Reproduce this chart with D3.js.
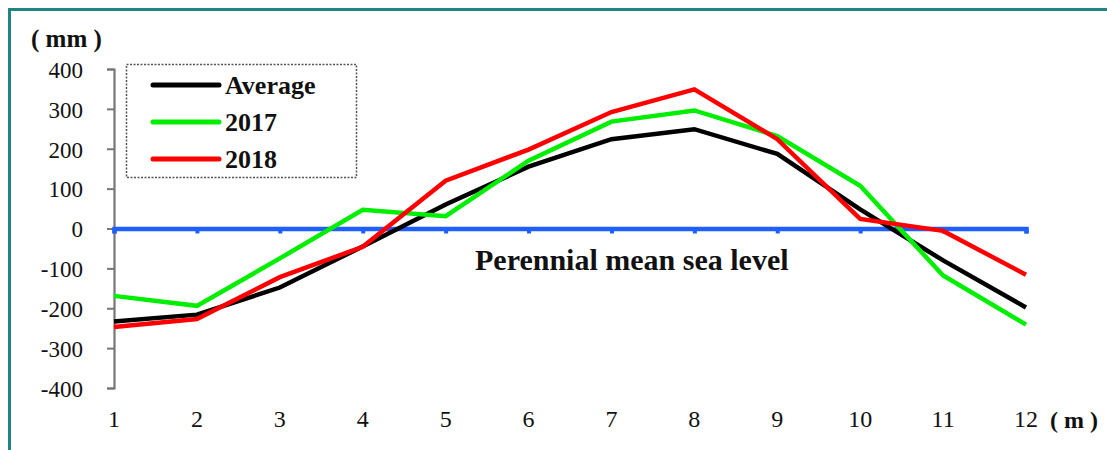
<!DOCTYPE html>
<html>
<head>
<meta charset="utf-8">
<script src="https://cdn.jsdelivr.net/npm/d3@7"></script>
<style>
  html, body { margin: 0; padding: 0; background: #fff; }
  svg { display: block; }
  text { font-family: "Liberation Serif", "Times New Roman", serif; fill: #111; }
</style>
</head>
<body>
<svg id="chart" width="1107" height="450"></svg>
<script>
// Monthly sea level anomaly (mm) relative to the perennial mean
const months = [1, 2, 3, 4, 5, 6, 7, 8, 9, 10, 11, 12];
const average = [-233, -216, -148, -45, 60, 155, 224, 249, 187, 48, -80, -198];
const y2017 = [-169, -194, -75, 47, 31, 170, 268, 296, 232, 107, -118, -241];
const y2018 = [-247, -227, -122, -46, 120, 198, 292, 349, 224, 24, -6, -116];
const yTicks = [400, 300, 200, 100, 0, -100, -200, -300, -400];

const series = [
  { name: "Average", values: average, color: "#000000" },
  { name: "2017", values: y2017, color: "#00ee00" },
  { name: "2018", values: y2018, color: "#ff0000" }
];

const serif = "'Liberation Serif', 'Times New Roman', serif";
const svg = d3.select("#chart");

const x = d3.scaleLinear().domain([1, 12]).range([114, 1026]);
const y = d3.scaleLinear().domain([-400, 400]).range([388, 69]);

// outer frame (top and left edges)
svg.append("path")
  .attr("d", "M9.5,450 V9.5 H1107")
  .attr("fill", "none")
  .attr("stroke", "#1e8583")
  .attr("stroke-width", 3);

// y axis
const yAxis = d3.axisLeft(y).tickValues(yTicks).tickSize(7).tickFormat(d => String(d));
const gy = svg.append("g").attr("transform", `translate(${x(1)},0)`).call(yAxis)
  .attr("font-family", serif);
gy.select(".domain").attr("stroke", "#777").attr("stroke-width", 2.2);
gy.selectAll(".tick line").attr("stroke", "#777").attr("stroke-width", 2);
gy.selectAll(".tick text")
  .attr("x", -31)
  .attr("dy", "0.36em")
  .style("font-size", "23px")
  .style("font-family", serif)
  .attr("fill", "#333");

// x tick labels
svg.append("g").selectAll("text")
  .data(months)
  .join("text")
  .attr("x", d => x(d))
  .attr("y", 427)
  .attr("text-anchor", "middle")
  .style("font-size", "24px")
  .style("font-family", serif)
  .attr("fill", "#333")
  .text(d => d);

// unit labels
svg.append("text").attr("x", 31).attr("y", 47)
  .style("font-size", "25px").style("font-weight", "bold").style("font-family", serif)
  .text("( mm )");
svg.append("text").attr("x", 1050).attr("y", 428)
  .style("font-size", "24px").style("font-weight", "bold").style("font-family", serif)
  .text("( m )");

// zero line (perennial mean sea level) with month ticks
const zeroAxis = d3.axisBottom(x).tickValues(months).tickSize(5).tickFormat("");
const gz = svg.append("g").attr("transform", `translate(0,${y(0)})`).call(zeroAxis);
gz.select(".domain").attr("stroke", "#1f5fff").attr("stroke-width", 4.5);
gz.selectAll(".tick line").attr("stroke", "#1f5fff").attr("stroke-width", 4);

svg.append("text")
  .attr("x", 475).attr("y", 270)
  .style("font-size", "30px").style("font-weight", "bold").style("font-family", serif)
  .attr("fill", "#000")
  .text("Perennial mean sea level");

// series lines
const line = d3.line()
  .x((d, i) => x(months[i]))
  .y(d => y(d));

svg.append("g").selectAll("path")
  .data(series)
  .join("path")
  .attr("d", d => line(d.values))
  .attr("fill", "none")
  .attr("stroke", d => d.color)
  .attr("stroke-width", 4.5)
  .attr("stroke-linejoin", "miter");

// legend
const lg = svg.append("g");
lg.append("rect")
  .attr("x", 126.5).attr("y", 64.5).attr("width", 230).attr("height", 113)
  .attr("fill", "none")
  .attr("stroke", "#555")
  .attr("stroke-width", 1.5)
  .attr("stroke-dasharray", "2,1.5");

const legendRows = [85, 122, 159];
series.forEach((s, i) => {
  lg.append("line")
    .attr("x1", 153).attr("x2", 219)
    .attr("y1", legendRows[i]).attr("y2", legendRows[i])
    .attr("stroke", s.color)
    .attr("stroke-width", 5)
    .attr("stroke-linecap", "round");
  lg.append("text")
    .attr("x", 225).attr("y", legendRows[i] + 9)
    .style("font-size", "26px")
    .style("font-weight", "bold")
    .style("font-family", serif)
    .attr("fill", "#111")
    .text(s.name);
});
</script>
</body>
</html>
